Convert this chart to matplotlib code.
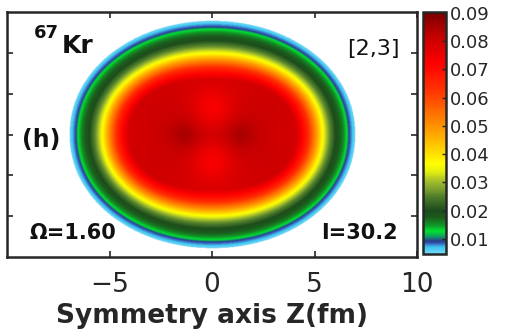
import numpy as np
import matplotlib
matplotlib.use('Agg')
import matplotlib.pyplot as plt
from matplotlib.colors import LinearSegmentedColormap

plt.rcParams['font.family'] = ['DejaVu Sans']

# density profile, d = distance from the
# half-density (yellow) surface in fm
prof_d = [-6.0, -1.3, -0.73, -0.34, 0.0, 0.34, 0.68, 0.98, 1.17, 1.27, 1.42, 1.56, 1.9]
prof_rho = [0.082, 0.079, 0.065, 0.050, 0.036, 0.026, 0.019, 0.016, 0.0125,
            0.0093, 0.0072, 0.005, 0.0]

# half-density radii (along Z and perpendicular) and shape exponent
r_z = 5.38
r_perp = 4.0
shape_p = 2.1

# interior structure: (z, x, amplitude, width)
bumps = [(-1.35, 0.0, 0.004, 0.55), (1.35, 0.0, 0.004, 0.55),
         (0.0, 1.3, -0.007, 0.7), (0.0, -1.3, -0.007, 0.7),
         (-3.0, 1.6, 0.001, 1.0), (3.0, 1.6, 0.001, 1.0),
         (-3.0, -1.6, 0.001, 1.0), (3.0, -1.6, 0.001, 1.0)]

vmin, vmax = 0.0047, 0.0903
cb_ticks = [0.01, 0.02, 0.03, 0.04, 0.05, 0.06, 0.07, 0.08, 0.09]
x_ticks = [-5, 0, 5, 10]
y_ticks = [-4, -2, 0, 2, 4]

# colour scale as in the figure
cmap_pts = [(0.0047, '#74d8f8'), (0.0068, '#3cc4ee'), (0.0080, '#3a6fc4'),
            (0.0092, '#283c90'), (0.0108, '#10a060'), (0.0125, '#00e030'),
            (0.0145, '#10a028'), (0.0175, '#1c5a1c'), (0.0200, '#1c4a1c'),
            (0.0245, '#4a7a2a'), (0.0295, '#98b430'), (0.0340, '#e6f010'),
            (0.0365, '#ffff00'), (0.0420, '#ffd000'), (0.0480, '#ffa000'),
            (0.0540, '#ff7400'), (0.0620, '#ff3800'), (0.0720, '#ff0000'),
            (0.0820, '#c40000'), (0.0903, '#780000')]
cmap = LinearSegmentedColormap.from_list(
    'dens', [((v - vmin) / (vmax - vmin), c) for v, c in cmap_pts])
cmap.set_under('white')

z = np.linspace(-10, 10, 800)
x = np.linspace(-6, 6, 480)
Z, X = np.meshgrid(z, x)
r = np.hypot(Z, X)
s = ((np.abs(Z) / r_z) ** shape_p + (np.abs(X) / r_perp) ** shape_p) ** (1 / shape_p)
d = r - r / np.maximum(s, 1e-6)
rho = np.interp(d, prof_d, prof_rho)
inner = np.clip(1 - np.clip(d + 1.3, 0, None) / 0.6, 0, 1)
for bz, bx, amp, w in bumps:
    rho += inner * amp * np.exp(-((Z - bz) ** 2 + (X - bx) ** 2) / (2 * w ** 2))
rho[rho < vmin] = vmin - 1

fig = plt.figure(figsize=(5.18, 3.35), dpi=100)
ax = fig.add_axes([0.0135, 0.233, 0.792, 0.731])
im = ax.imshow(rho, extent=[-10, 10, -6, 6], origin='lower', cmap=cmap,
               vmin=vmin, vmax=vmax, aspect='auto', interpolation='bilinear')
ax.set_xlim(-10, 10)
ax.set_ylim(-6, 6)
ax.set_xticks(x_ticks)
ax.set_yticks(y_ticks)
ax.set_yticklabels([])
ax.tick_params(direction='in', length=4.5, width=1.2, top=True, right=True,
               colors='#262626', labelsize=19, pad=10.5)
for sp in ax.spines.values():
    sp.set_linewidth(1.8)
    sp.set_color('#262626')
ax.set_xlabel('Symmetry axis Z(fm)', fontsize=19, fontweight='bold',
              color='#262626', labelpad=4)

tc = '#111111'
ax.text(-8.7, 4.73, '67', fontsize=13, fontweight='bold', color=tc, va='baseline')
ax.text(-7.35, 4.0, 'Kr', fontsize=18, fontweight='bold', color=tc, va='baseline')
ax.text(9.15, 4.2, '[2,3]', fontsize=16, color=tc, ha='right', va='center')
ax.text(-9.25, -0.27, '(h)', fontsize=17, fontweight='bold', color=tc, va='center')
ax.text(-8.9, -5.12, '\u03a9=1.60', fontsize=15, fontweight='bold', color=tc,
        va='baseline')
ax.text(9.05, -5.12, 'I=30.2', fontsize=15, fontweight='bold', color=tc,
        ha='right', va='baseline')

cax = fig.add_axes([0.8166, 0.242, 0.0444, 0.722])
cb = fig.colorbar(im, cax=cax, ticks=cb_ticks)
cb.outline.set_linewidth(1.8)
cb.outline.set_edgecolor('#262626')
cb.ax.tick_params(direction='in', length=3, width=1, labelsize=13,
                  colors='#262626', pad=3)
cb.ax.set_yticklabels(['%.2f' % t for t in cb_ticks])

fig.savefig('out.png', dpi=100)
